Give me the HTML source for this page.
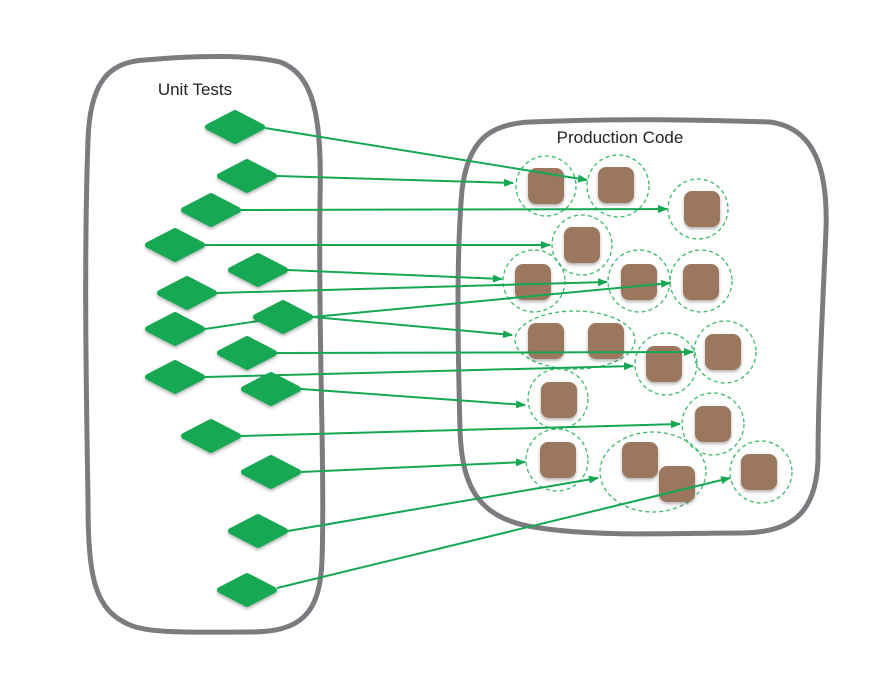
<!DOCTYPE html>
<html><head><meta charset="utf-8"><style>
html,body{margin:0;padding:0;background:#fff;}
svg{display:block;font-family:"Liberation Sans",sans-serif;}
</style></head><body>
<svg width="884" height="680" viewBox="0 0 884 680" xmlns="http://www.w3.org/2000/svg">
<defs>
<marker id="ar" markerWidth="10" markerHeight="8" refX="9" refY="4" orient="auto" markerUnits="userSpaceOnUse">
<path d="M0,0 L10,4 L0,8 Z" fill="#14a853"/></marker>
<filter id="sh" x="-20%" y="-20%" width="140%" height="150%"><feDropShadow dx="0" dy="2" stdDeviation="1.5" flood-color="#000" flood-opacity="0.3"/></filter>
<g id="dm"><path d="M-27,0 L0,-14 L27,0 L0,14 Z" fill="#14a853" stroke="#14a853" stroke-width="6" stroke-linejoin="round"/></g>
<g id="sq"><rect x="-18" y="-18" width="36" height="36" rx="8" fill="#9b785d"/></g>
</defs>
<path d="M145,60 C200,55 250,55 280,62 C315,75 322,120 320,200 C318,330 325,470 322,560 C320,615 300,632 250,632 C200,632 150,634 130,625 C95,610 88,580 88,500 C86,380 84,250 88,140 C90,80 110,62 145,60 Z" fill="none" stroke="#7c7c80" stroke-width="5"/>
<path d="M530,122 C620,118 700,120 770,122 C815,128 828,170 826,230 C822,320 818,400 818,460 C816,515 790,533 740,533 C680,533 600,537 540,528 C480,520 462,490 460,430 C458,350 456,260 462,190 C468,140 490,124 530,122 Z" fill="none" stroke="#7c7c80" stroke-width="5"/>
<text x="195" y="95" font-size="17" text-anchor="middle" fill="#222">Unit Tests</text>
<text x="620" y="143" font-size="17" text-anchor="middle" fill="#222">Production Code</text>
<g fill="none" stroke="#3cb96a" stroke-width="1.3" stroke-dasharray="4,3">
<circle cx="546" cy="186" r="30"/><circle cx="618" cy="186" r="31"/><circle cx="698" cy="209" r="30"/>
<circle cx="582" cy="245" r="30"/><circle cx="534" cy="281" r="31"/><circle cx="639" cy="281" r="31"/>
<circle cx="701" cy="281" r="31"/><ellipse cx="575" cy="340" rx="60" ry="29"/><circle cx="666" cy="364" r="31"/>
<circle cx="725" cy="352" r="31"/><circle cx="558" cy="399" r="30"/><circle cx="713" cy="424" r="31"/>
<circle cx="557" cy="460" r="31"/><ellipse cx="653" cy="472" rx="53" ry="40"/><circle cx="761" cy="472" r="31"/>
</g>
<g filter="url(#sh)">
<use href="#sq" x="546" y="186"/><use href="#sq" x="616" y="185"/><use href="#sq" x="702" y="209"/>
<use href="#sq" x="582" y="245"/><use href="#sq" x="533" y="282"/><use href="#sq" x="639" y="282"/>
<use href="#sq" x="701" y="282"/><use href="#sq" x="546" y="341"/><use href="#sq" x="606" y="341"/>
<use href="#sq" x="664" y="364"/><use href="#sq" x="723" y="352"/><use href="#sq" x="559" y="400"/>
<use href="#sq" x="713" y="424"/><use href="#sq" x="558" y="460"/><use href="#sq" x="640" y="460"/>
<use href="#sq" x="677" y="484"/><use href="#sq" x="759" y="472"/>
</g>
<g stroke="#14a853" stroke-width="2" fill="none" marker-end="url(#ar)">
<line x1="265" y1="128" x2="587" y2="180"/>
<line x1="277" y1="176" x2="513" y2="183"/>
<line x1="241" y1="210" x2="667" y2="209"/>
<line x1="205" y1="245" x2="550" y2="245"/>
<line x1="288" y1="270" x2="502" y2="279"/>
<line x1="217" y1="293" x2="607" y2="282"/>
<line x1="313" y1="317" x2="670" y2="283"/>
<line x1="313" y1="317" x2="512" y2="335"/>
<line x1="277" y1="353" x2="693" y2="352"/>
<line x1="205" y1="377" x2="633" y2="366"/>
<line x1="301" y1="389" x2="525" y2="405"/>
<line x1="241" y1="436" x2="680" y2="424"/>
<line x1="301" y1="472" x2="525" y2="462"/>
<line x1="288" y1="531" x2="598" y2="478"/>
<line x1="277" y1="588" x2="730" y2="478"/>
</g>
<line x1="205" y1="329" x2="265" y2="320" stroke="#14a853" stroke-width="2"/>
<g filter="url(#sh)">
<use href="#dm" x="235" y="127"/><use href="#dm" x="247" y="176"/><use href="#dm" x="211" y="210"/>
<use href="#dm" x="175" y="245"/><use href="#dm" x="258" y="270"/><use href="#dm" x="187" y="293"/>
<use href="#dm" x="175" y="329"/><use href="#dm" x="283" y="317"/><use href="#dm" x="247" y="353"/>
<use href="#dm" x="175" y="377"/><use href="#dm" x="271" y="389"/><use href="#dm" x="211" y="436"/>
<use href="#dm" x="271" y="472"/><use href="#dm" x="258" y="531"/><use href="#dm" x="247" y="590"/>
</g>
</svg>
</body></html>
